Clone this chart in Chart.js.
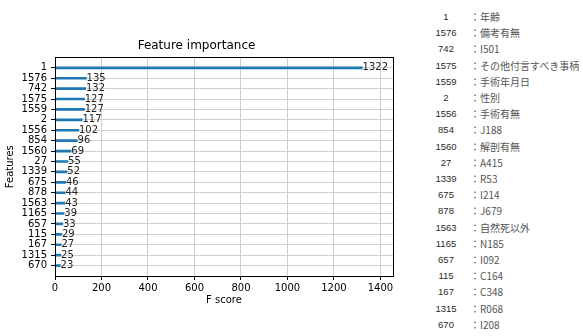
<!DOCTYPE html>
<html>
<head>
<meta charset="utf-8">
<script src="https://cdn.jsdelivr.net/npm/chart.js@4.4.0/dist/chart.umd.min.js"></script>
<style>
  body { margin: 0; background: #fff; width: 583px; height: 336px; overflow: hidden; position: relative; }
  #wrap { position: absolute; left: 0; top: 0; width: 405px; height: 336px; }
  .row { position: absolute; height: 16px; white-space: nowrap; }
  .num { width: 40px; left: 426px; text-align: center; font: 9.5px "Liberation Sans", sans-serif; line-height: 16px; color: #2a2a2a; }
  .desc { left: 470px; font: 10px "Noto Sans CJK JP", sans-serif; line-height: 16px; color: #555; }
</style>
</head>
<body>
<div id="wrap"><canvas id="chart"></canvas></div>
<div id="table"></div>
<script>
const features = ['1', '1576', '742', '1575', '1559', '2', '1556', '854', '1560', '27',
  '1339', '675', '878', '1563', '1165', '657', '115', '167', '1315', '670'];
const scores = [1322, 135, 132, 127, 127, 117, 102, 96, 69, 55, 52, 46, 44, 43, 39, 33, 29, 27, 25, 23];
const descriptions = ['年齢', '備考有無', 'I501', 'その他付言すべき事柄', '手術年月日', '性別', '手術有無', 'J188',
  '解剖有無', 'A415', 'R53', 'I214', 'J679', '自然死以外', 'N185', 'I092', 'C164', 'C348', 'R068', 'I208'];
const xTicks = [0, 200, 400, 600, 800, 1000, 1200, 1400];
const xMax = 1454;

// blank rows at both ends so the bars sit one step inside the frame
const labels = [''].concat(features, ['']);
const values = [null].concat(scores, [null]);
const lastIdx = labels.length - 1;

// right-hand lookup table
const table = document.getElementById('table');
features.forEach((f, i) => {
  const y = 9 + i * 16.2;
  const n = document.createElement('div');
  n.className = 'row num';
  n.style.top = y + 'px';
  n.textContent = f;
  const d = document.createElement('div');
  d.className = 'row desc';
  d.style.top = y + 'px';
  d.textContent = '：' + descriptions[i];
  table.appendChild(n);
  table.appendChild(d);
});

const valueLabels = {
  id: 'valueLabels',
  afterDatasetsDraw(chart) {
    const { ctx, scales: { x, y } } = chart;
    ctx.save();
    ctx.font = '10px "DejaVu Sans"';
    ctx.fillStyle = '#222';
    ctx.textBaseline = 'middle';
    ctx.textAlign = 'left';
    values.forEach((v, i) => {
      if (v == null) return;
      ctx.fillText(String(v), x.getPixelForValue(v + 1), y.getPixelForValue(i));
    });
    ctx.restore();
  }
};

const frame = {
  id: 'frame',
  afterDraw(chart) {
    const { ctx, chartArea: a } = chart;
    ctx.save();
    ctx.strokeStyle = '#000';
    ctx.lineWidth = 1;
    ctx.strokeRect(Math.round(a.left) + 0.5, Math.round(a.top) + 0.5,
      Math.round(a.right - a.left), Math.round(a.bottom - a.top));
    ctx.restore();
  }
};

Chart.defaults.font.family = '"DejaVu Sans", sans-serif';
Chart.defaults.color = '#000';

new Chart(document.getElementById('chart'), {
  type: 'bar',
  data: {
    labels: labels,
    datasets: [{
      data: values,
      backgroundColor: '#1f77b4',
      barThickness: 2
    }]
  },
  options: {
    indexAxis: 'y',
    responsive: true,
    maintainAspectRatio: false,
    animation: false,
    layout: { padding: { left: 0, top: 0, right: 12, bottom: 30 } },
    plugins: {
      legend: { display: false },
      tooltip: { enabled: false },
      title: {
        display: true,
        text: 'Feature importance',
        color: '#000',
        font: { size: 12, weight: 'normal' },
        padding: { top: 39, bottom: 4 }
      }
    },
    scales: {
      x: {
        type: 'linear',
        min: 0,
        max: xMax,
        afterBuildTicks: s => { s.ticks = xTicks.map(v => ({ value: v })); },
        afterFit: s => { s.height = 30; },
        ticks: { font: { size: 10 }, padding: 2, maxRotation: 0, callback: v => String(v) },
        grid: { color: '#cfcfcf', tickColor: '#000', tickLength: 4 },
        border: { display: false },
        title: { display: true, text: 'F score', font: { size: 10 }, padding: 0 }
      },
      y: {
        offset: false,
        afterFit: s => { s.width = 55; },
        ticks: { font: { size: 10 }, padding: 4, autoSkip: false },
        grid: {
          offset: false,
          color: '#cfcfcf',
          tickLength: 4,
          tickColor: c => (c.index === 0 || c.index === lastIdx) ? 'rgba(0,0,0,0)' : '#000'
        },
        border: { display: false },
        title: { display: true, text: 'Features', font: { size: 10 }, padding: { top: 4, bottom: 0 } }
      }
    }
  },
  plugins: [valueLabels, frame]
});
</script>
</body>
</html>
